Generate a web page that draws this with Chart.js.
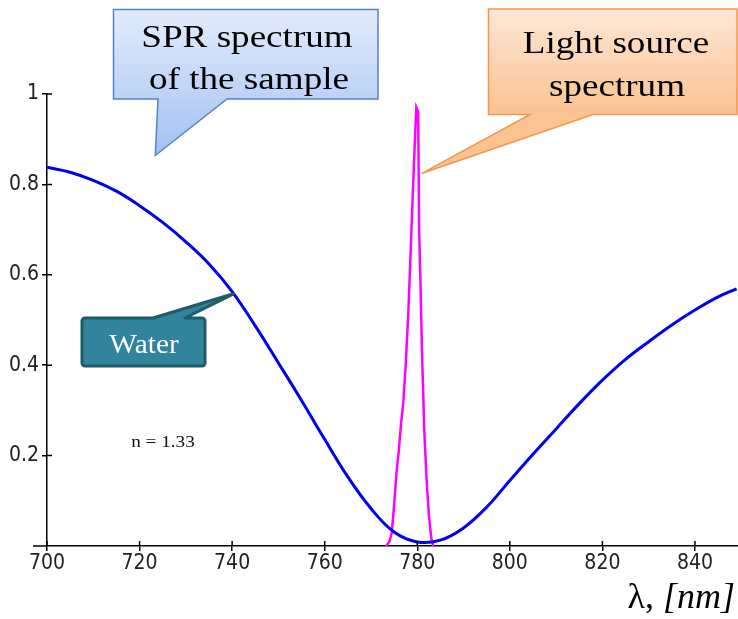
<!DOCTYPE html>
<html lang="en">
<head>
<meta charset="UTF-8">
<title>SPR spectrum vs light source</title>
<script src="https://cdn.jsdelivr.net/npm/chart.js"></script>
<style>
  html, body { margin: 0; padding: 0; background: #fff; }
  #wrap { width: 738px; height: 619px; }
</style>
</head>
<body>
<div id="wrap"><canvas id="sprChart" width="738" height="619"></canvas></div>
<script>
// SPR reflectance curve of the sample (water, n = 1.33)
const sprNm  = [700, 705, 710, 715, 720, 725, 730, 735, 740, 745, 750, 755, 760, 765, 770, 775, 780, 785, 790, 795, 800, 805, 810, 815, 820, 825, 830, 835, 840, 845, 849];
const sprVal = [0.838, 0.827, 0.809, 0.785, 0.753, 0.716, 0.673, 0.624, 0.563, 0.487, 0.405, 0.322, 0.236, 0.153, 0.083, 0.031, 0.009, 0.013, 0.040, 0.086, 0.145, 0.203, 0.259, 0.315, 0.367, 0.413, 0.452, 0.489, 0.522, 0.551, 0.569];

// light source spectrum (narrow peak near 780 nm)
const srcNm  = [773.3, 774.0, 774.5, 775.0, 775.5, 776.0, 776.5, 777.0, 777.5, 778.0, 778.5, 779.0, 779.5, 779.8, 780.2, 780.4, 780.7, 781.0, 781.5, 782.0, 782.5, 783.0, 783.4];
const srcVal = [0, 0.01, 0.03, 0.09, 0.16, 0.21, 0.27, 0.32, 0.40, 0.50, 0.63, 0.77, 0.90, 0.97, 0.96, 0.70, 0.58, 0.44, 0.26, 0.15, 0.07, 0.02, 0];

// tick labels
const xTicks = [700, 720, 740, 760, 780, 800, 820, 840];
const yTicks = [0.2, 0.4, 0.6, 0.8, 1];

const tickFont = "'Liberation Sans Narrow', 'DejaVu Sans Condensed', sans-serif";
const serif = "'Liberation Serif', 'DejaVu Serif', serif";

// draws the tick marks on the inner side of both axes
const innerTicks = {
    id: 'innerTicks',
    afterDraw(chart) {
        const ctx = chart.ctx;
        const xs = chart.scales.x, ys = chart.scales.y;
        ctx.save();
        ctx.strokeStyle = '#000';
        ctx.lineWidth = 1.5;
        ctx.beginPath();
        xTicks.forEach(v => {
            const px = xs.getPixelForValue(v);
            ctx.moveTo(px, xs.top);
            ctx.lineTo(px, xs.top - 5);
        });
        yTicks.forEach(v => {
            const py = ys.getPixelForValue(v);
            ctx.moveTo(ys.right, py);
            ctx.lineTo(ys.right + 5, py);
        });
        // x axis runs a little to the left of the y axis
        ctx.moveTo(xs.left - 14, xs.top);
        ctx.lineTo(xs.left, xs.top);
        ctx.stroke();
        ctx.restore();
    }
};

function stretchedText(ctx, text, cx, baseline, font, sx) {
    ctx.save();
    ctx.font = font;
    ctx.translate(cx, baseline);
    ctx.scale(sx, 1);
    ctx.textAlign = 'center';
    ctx.textBaseline = 'alphabetic';
    ctx.fillText(text, 0, 0);
    ctx.restore();
}

// rectangle with a pointed tail leaving the top or bottom edge
function calloutPath(ctx, b, r) {
    const { x0, y0, x1, y1, t0, t1, tip, edge } = b;
    ctx.beginPath();
    ctx.moveTo(x0 + r, y0);
    if (edge === 'top') {
        ctx.lineTo(t0, y0);
        ctx.lineTo(tip[0], tip[1]);
        ctx.lineTo(t1, y0);
    }
    ctx.arcTo(x1, y0, x1, y1, r);
    ctx.arcTo(x1, y1, x0, y1, r);
    if (edge === 'bottom') {
        ctx.lineTo(t1, y1);
        ctx.lineTo(tip[0], tip[1]);
        ctx.lineTo(t0, y1);
    }
    ctx.arcTo(x0, y1, x0, y0, r);
    ctx.arcTo(x0, y0, x1, y0, r);
    ctx.closePath();
}

const callouts = {
    id: 'callouts',
    afterDraw(chart) {
        const ctx = chart.ctx;
        const xs = chart.scales.x, ys = chart.scales.y;
        ctx.save();

        // SPR spectrum of the sample
        let g = ctx.createLinearGradient(0, 9, 0, 155);
        g.addColorStop(0, '#e3ecfc');
        g.addColorStop(1, '#a3c1f3');
        calloutPath(ctx, { x0: 113.5, y0: 9.5, x1: 378, y1: 99, t0: 158, t1: 227, edge: 'bottom',
            tip: [xs.getPixelForValue(723.4), ys.getPixelForValue(0.864)] }, 0);
        ctx.fillStyle = g;
        ctx.fill();
        ctx.strokeStyle = '#5283c4';
        ctx.lineWidth = 1.5;
        ctx.stroke();
        ctx.fillStyle = '#000';
        stretchedText(ctx, 'SPR spectrum', 247, 47, '32px ' + serif, 1.16);
        stretchedText(ctx, 'of the sample', 249, 89, '32px ' + serif, 1.16);

        // Light source spectrum
        g = ctx.createLinearGradient(0, 9, 0, 115);
        g.addColorStop(0, '#fde7d6');
        g.addColorStop(1, '#fbc292');
        calloutPath(ctx, { x0: 488.5, y0: 9, x1: 737, y1: 114.5, t0: 530, t1: 593, edge: 'bottom',
            tip: [xs.getPixelForValue(780.9), ys.getPixelForValue(0.824)] }, 0);
        ctx.fillStyle = g;
        ctx.fill();
        ctx.strokeStyle = '#f5964a';
        ctx.lineWidth = 1.5;
        ctx.stroke();
        ctx.fillStyle = '#000';
        stretchedText(ctx, 'Light source', 616, 53, '32px ' + serif, 1.16);
        stretchedText(ctx, 'spectrum', 617, 96, '32px ' + serif, 1.16);

        // Water
        calloutPath(ctx, { x0: 82, y0: 318, x1: 205, y1: 366, t0: 153, t1: 185, edge: 'top',
            tip: [xs.getPixelForValue(740.3), ys.getPixelForValue(0.558)] }, 3);
        ctx.fillStyle = '#31849b';
        ctx.fill();
        ctx.strokeStyle = '#215b6a';
        ctx.lineWidth = 3;
        ctx.lineJoin = 'round';
        ctx.stroke();
        ctx.fillStyle = '#fff';
        stretchedText(ctx, 'Water', 144, 353, '28px ' + serif, 1.05);

        // refractive index note
        ctx.fillStyle = '#111';
        stretchedText(ctx, 'n = 1.33', 163, 447, '16px ' + serif, 1.2);

        // x axis title
        ctx.fillStyle = '#000';
        ctx.textBaseline = 'alphabetic';
        ctx.textAlign = 'left';
        const part1 = '\u03bb, ';
        ctx.font = 'italic 36px ' + serif;
        const w2 = ctx.measureText('[nm]').width;
        ctx.font = '36px ' + serif;
        const w1 = ctx.measureText(part1).width;
        const start = 735 - w1 - w2;
        ctx.fillText(part1, start, 608);
        ctx.font = 'italic 36px ' + serif;
        ctx.fillText('[nm]', start + w1, 608);

        ctx.restore();
    }
};

const toPoints = (xsArr, ysArr) => xsArr.map((x, i) => ({ x: x, y: ysArr[i] }));

new Chart(document.getElementById('sprChart'), {
    type: 'line',
    data: {
        datasets: [{
            label: 'SPR spectrum of the sample',
            data: toPoints(sprNm, sprVal),
            borderColor: '#0000f0',
            borderWidth: 3,
            pointRadius: 0,
            tension: 0.4,
            fill: false
        }, {
            label: 'Light source spectrum',
            data: toPoints(srcNm, srcVal),
            borderColor: '#ff00ff',
            borderWidth: 2.5,
            pointRadius: 0,
            tension: 0,
            fill: false
        }]
    },
    options: {
        responsive: false,
        animation: false,
        layout: { padding: { top: 94, right: 0, left: 0, bottom: 0 } },
        plugins: {
            legend: { display: false },
            tooltip: { enabled: false }
        },
        scales: {
            x: {
                type: 'linear',
                min: 700,
                max: 849.3,
                afterBuildTicks: s => { s.ticks = xTicks.map(v => ({ value: v })); },
                afterFit: s => { s.height = 73; },
                grid: { drawOnChartArea: false, color: '#000', tickLength: 5, lineWidth: 1.5 },
                border: { color: '#000', width: 1.5 },
                ticks: {
                    maxRotation: 0,
                    autoSkip: false,
                    padding: 0,
                    color: '#222',
                    font: { family: tickFont, size: 21 }
                }
            },
            y: {
                min: 0,
                max: 1,
                afterBuildTicks: s => { s.ticks = yTicks.map(v => ({ value: v })); },
                afterFit: s => { s.width = 47; },
                grid: { drawOnChartArea: false, color: '#000', tickLength: 5, lineWidth: 1.5 },
                border: { color: '#000', width: 1.5 },
                ticks: {
                    padding: 3,
                    color: '#222',
                    font: { family: tickFont, size: 21 },
                    callback: v => String(v)
                }
            }
        }
    },
    plugins: [innerTicks, callouts]
});
</script>
</body>
</html>
